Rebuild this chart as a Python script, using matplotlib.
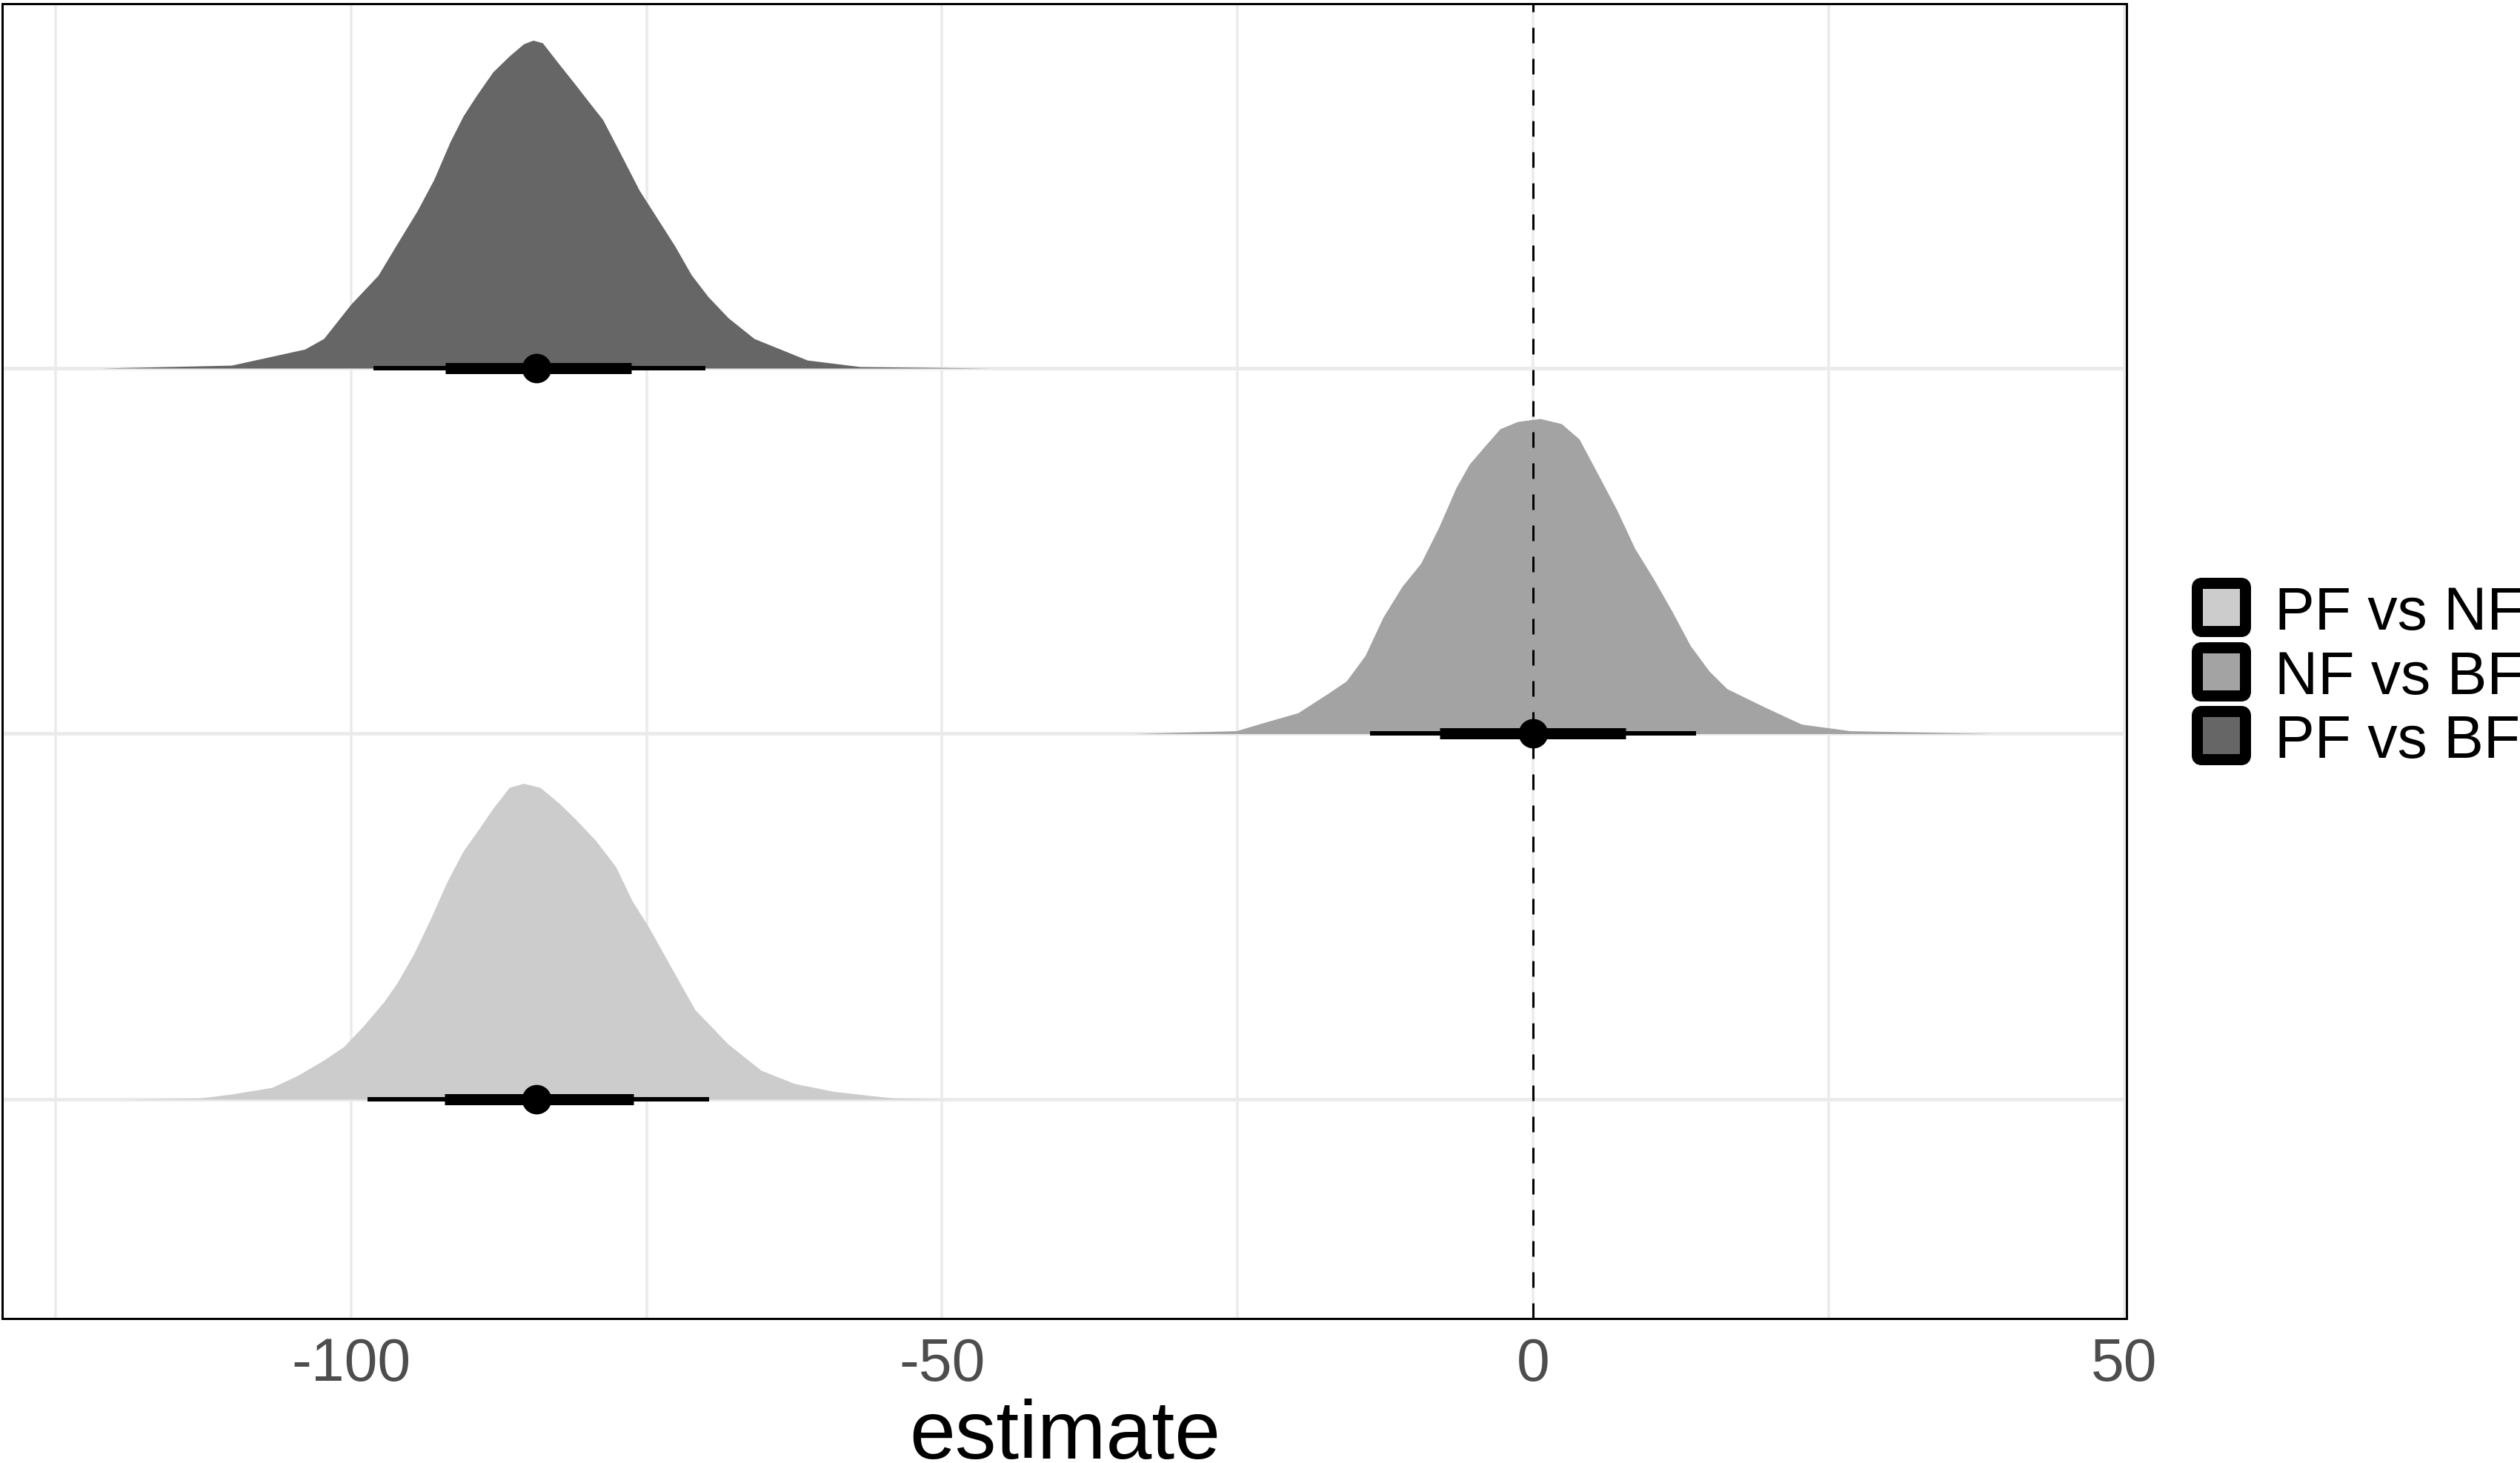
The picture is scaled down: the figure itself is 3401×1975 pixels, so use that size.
import matplotlib.pyplot as plt
import numpy as np
from matplotlib.patches import FancyBboxPatch
from matplotlib.transforms import IdentityTransform

plt.rcParams["font.family"] = ["Liberation Sans", "DejaVu Sans"]

W, H, DPI = 3401, 1975, 200

# comparisons, bottom row first
comparisons = ["PF vs NF", "NF vs BF", "PF vs BF"]
fills = ["#CCCCCC", "#A3A3A3", "#666666"]
rows = [1, 2, 3]

# density outlines: estimate, scaled height
pf_nf_x = [-119.4, -112.8, -110.1, -106.7, -104.5, -102.3, -100.6, -98.9, -97.2, -96.1,
           -94.7, -93.3, -91.9, -90.5, -89.4, -88.0, -86.6, -85.4, -84.0, -82.4,
           -81.0, -79.3, -77.6, -76.2, -74.8, -72.9, -70.9, -68.1, -65.3, -62.5,
           -59.1, -54.1, -49.4]
pf_nf_h = [0.0, 0.003, 0.014, 0.032, 0.065, 0.107, 0.144, 0.202, 0.267, 0.318,
           0.397, 0.491, 0.593, 0.679, 0.729, 0.795, 0.853, 0.864, 0.853, 0.810,
           0.766, 0.708, 0.636, 0.542, 0.470, 0.360, 0.245, 0.151, 0.079, 0.043,
           0.021, 0.003, 0.0]

nf_bf_x = [-34.0, -25.1, -22.6, -19.9, -17.4, -15.8, -14.2, -12.7, -11.1, -9.5,
           -8.0, -6.5, -5.4, -4.1, -2.8, -1.3, 0.6, 2.4, 3.9, 5.5,
           7.1, 8.6, 10.2, 11.8, 13.3, 14.9, 16.4, 19.5, 22.7, 26.8, 39.0]
nf_bf_h = [0.0, 0.008, 0.032, 0.057, 0.109, 0.144, 0.214, 0.318, 0.402, 0.466,
           0.563, 0.674, 0.737, 0.786, 0.834, 0.854, 0.862, 0.848, 0.806, 0.709,
           0.611, 0.507, 0.423, 0.332, 0.241, 0.171, 0.123, 0.074, 0.026, 0.008, 0.0]

pf_bf_x = [-121.2, -110.1, -103.9, -102.3, -100.0, -97.7, -96.1, -94.4, -93.0, -91.6,
           -90.5, -89.4, -88.0, -86.6, -85.4, -84.6, -83.8, -82.4, -81.0, -79.8,
           -78.7, -77.3, -75.6, -73.7, -72.6, -71.2, -69.8, -68.1, -65.9, -61.4,
           -56.9, -45.7]
pf_bf_h = [0.0, 0.008, 0.052, 0.081, 0.175, 0.254, 0.340, 0.430, 0.515, 0.620,
           0.690, 0.745, 0.810, 0.854, 0.887, 0.897, 0.890, 0.832, 0.775, 0.725,
           0.680, 0.593, 0.486, 0.390, 0.334, 0.255, 0.196, 0.138, 0.081, 0.022,
           0.004, 0.0]

dens_x = [pf_nf_x, nf_bf_x, pf_bf_x]
dens_h = [pf_nf_h, nf_bf_h, pf_bf_h]

# point estimate and intervals (66% thick, 95% thin)
medians = [-84.3, 0.0, -84.3]
ci66_lo = [-92.1, -7.9, -92.0]
ci66_hi = [-76.1, 7.8, -76.3]
ci95_lo = [-98.6, -13.8, -98.1]
ci95_hi = [-69.7, 13.8, -70.0]

xticks = [-100, -50, 0, 50]
xtick_labels = ["-100", "-50", "0", "50"]
minor_ticks = [-125, -75, -25, 25]

px = 72 / DPI  # points per pixel

fig = plt.figure(figsize=(W / DPI, H / DPI), dpi=DPI)
ax = fig.add_axes([3 / W, (H - 1780) / H, (2870 - 3) / W, (1780 - 5) / H])

for x, h, y, c in zip(dens_x, dens_h, rows, fills):
    x = np.array(x)
    ax.fill_between(x, y, y + np.array(h), color=c, lw=0, zorder=2)

for i, y in enumerate(rows):
    ax.plot([ci95_lo[i], ci95_hi[i]], [y, y], color="black", lw=6 * px,
            solid_capstyle="butt", zorder=4)
    ax.plot([ci66_lo[i], ci66_hi[i]], [y, y], color="black", lw=15 * px,
            solid_capstyle="butt", zorder=4)
    ax.plot(medians[i], y, "o", color="black", ms=37 * px, zorder=5)

ax.axvline(0, color="black", lw=3 * px, dashes=(7, 7), zorder=3)

ax.set_xlim(-129.5, 50.2)
ax.set_ylim(0.40, 3.997)
ax.set_xticks(xticks)
ax.set_xticklabels(xtick_labels)
ax.set_xticks(minor_ticks, minor=True)
ax.set_yticks(rows)
ax.set_yticklabels([])
ax.tick_params(axis="both", which="both", length=0)
ax.tick_params(axis="x", labelsize=29, labelcolor="#4D4D4D", pad=9)
ax.grid(axis="x", which="both", color="#EBEBEB", lw=3.5 * px, zorder=0)
ax.grid(axis="y", which="major", color="#EBEBEB", lw=5 * px, zorder=0)
ax.set_axisbelow(True)
for s in ax.spines.values():
    s.set_linewidth(3 * px)
    s.set_color("black")

fig.text(1437 / W, 6 / H, "estimate", ha="center", va="baseline", fontsize=40)

# legend, drawn in figure pixels
legend_rows_top = [780, 867, 953]
for i, top in enumerate(legend_rows_top):
    box = FancyBboxPatch((2965.5, H - (top + 72.5)), 65, 65,
                         boxstyle="round,pad=0,rounding_size=6",
                         facecolor=fills[i], edgecolor="black", lw=15 * px,
                         transform=IdentityTransform())
    fig.add_artist(box)
    fig.text(3070 / W, (H - (top + 70)) / H, comparisons[i], ha="left",
             va="baseline", fontsize=29)

fig.savefig("out.png", dpi=DPI)
